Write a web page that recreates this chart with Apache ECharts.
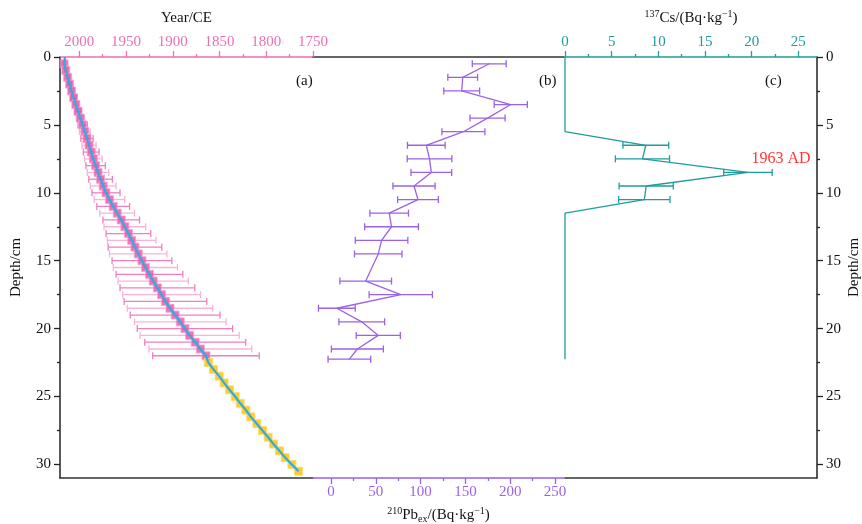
<!DOCTYPE html>
<html lang="en">
<head>
  <meta charset="UTF-8">
  <title>210Pb / 137Cs depth profile</title>
  <script src="https://cdn.jsdelivr.net/npm/echarts@6/dist/echarts.min.js"></script>
  <style>
    html, body { margin: 0; background: #fff; }
    #chart { width: 862px; height: 524px; }
  </style>
</head>
<body>
  <div id="chart"></div>
  <script>
    // (a) CRS ages, depth in cm
    const ageDepth = [0.5, 1, 1.5, 2, 2.5, 3, 3.5, 4, 4.5, 5, 5.5, 6, 6.5, 7, 7.5, 8, 8.5, 9, 9.5, 10, 10.5, 11,
      11.5, 12, 12.5, 13, 13.5, 14, 14.5, 15, 15.5, 16, 16.5, 17, 17.5, 18, 18.5, 19, 19.5, 20, 20.5, 21, 21.5, 22]
    const ageYear = [2016.3, 2014.5, 2012.5, 2010.4, 2008.3, 2006.1, 2003.8, 2001.4, 1998.9, 1996.4, 1994.1, 1991.8,
      1989.6, 1987.3, 1985.0, 1982.6, 1980.0, 1977.3, 1974.5, 1971.5, 1967.8, 1963.8, 1959.5, 1955.2, 1951.3, 1947.5,
      1944.0, 1940.5, 1937.0, 1933.0, 1929.3, 1925.0, 1921.0, 1916.5, 1912.0, 1907.9, 1903.0, 1897.5, 1892.0, 1887.0,
      1882.0, 1876.0, 1870.5, 1864.5]
    const ageErr = [1.0, 1.2, 1.5, 1.8, 2.2, 2.6, 3.0, 3.6, 4.2, 5.0, 5.8, 6.6, 7.5, 8.4, 9.4, 10.4, 11.5, 12.6, 13.8,
      15.0, 16.3, 17.5, 18.6, 19.6, 22.3, 23.9, 26.0, 28.7, 30.7, 32.0, 34.3, 35.7, 37.6, 40.0, 41.6, 44.2, 45.7, 48.0,
      49.0, 51.0, 53.0, 54.0, 55.0, 57.0]
    // extrapolated ages below the dated section
    const extDepth = [22.5, 23, 23.5, 24, 24.5, 25, 25.5, 26, 26.5, 27, 27.5, 28, 28.5, 29, 29.5, 30, 30.5]
    const extYear = [1861.9, 1856.5, 1850.4, 1845.1, 1839.4, 1833.3, 1827.9, 1821.8, 1816.5, 1810.1, 1804.1, 1798.0,
      1792.3, 1785.9, 1779.8, 1772.6, 1765.5]
    const topYear = 2015.3

    // (b) 210Pb excess
    const pbDepth = [0.5, 1.5, 2.5, 3.5, 4.5, 5.5, 6.5, 7.5, 8.5, 9.5, 10.5, 11.5, 12.5, 13.5, 14.5, 16.5, 17.5,
      18.5, 19.5, 20.5, 21.5, 22.25]
    const pbValue = [176.6, 147, 145.9, 200.6, 174.7, 147.8, 106.4, 110, 112, 92.7, 97.1, 65, 67.6, 56.5, 52.8, 38.8,
      77.9, 6.6, 34.4, 52.8, 29.5, 20.6]
    const pbErr = [18.9, 16.6, 20, 18.5, 19.6, 24, 21, 24.9, 22.7, 23.5, 22.7, 21.5, 30, 29.3, 26.5, 28.8, 35.3, 20.5,
      25.5, 24.6, 29, 23.8]

    // (c) 137Cs
    const csDepth = [0, 5.5, 6.5, 7.5, 8.5, 9.5, 10.5, 11.5, 22.25]
    const csValue = [0, 0, 8.66, 8.3, 19.6, 8.7, 8.5, 0, 0]
    const csErr = [0, 0, 2.45, 2.9, 2.6, 2.9, 2.75, 0, 0]

    const yearTicks = [2000, 1950, 1900, 1850, 1800, 1750]
    const yearMinor = [1975, 1925, 1875, 1825, 1775]
    const pbTicks = [0, 50, 100, 150, 200, 250]
    const pbMinor = [25, 75, 125, 175, 225]
    const csTicks = [0, 5, 10, 15, 20, 25]
    const csMinor = [2.5, 7.5, 12.5, 17.5, 22.5]
    const depthTicks = [0, 5, 10, 15, 20, 25, 30]
    const depthMinor = [2.5, 7.5, 12.5, 17.5, 22.5, 27.5]

    const PINK = '#f06eb5'
    const PURPLE = '#9b62e6'
    const TEAL = '#1f9c9c'
    const FONT = 'Liberation Serif'

    const gridTop = 57
    const gridBottom = 46

    function errorBars(colors, capH) {
      return function (params, api) {
        const lo = api.coord([api.value(0), api.value(2)])
        const hi = api.coord([api.value(1), api.value(2)])
        const color = colors[params.dataIndex % colors.length]
        const style = { stroke: color, lineWidth: 1.3 }
        return {
          type: 'group',
          children: [
            { type: 'line', shape: { x1: lo[0], y1: lo[1], x2: hi[0], y2: hi[1] }, style: style },
            { type: 'line', shape: { x1: lo[0], y1: lo[1] - capH, x2: lo[0], y2: lo[1] + capH }, style: style },
            { type: 'line', shape: { x1: hi[0], y1: hi[1] - capH, x2: hi[0], y2: hi[1] + capH }, style: style }
          ]
        }
      }
    }

    function valueAxis(opts) {
      return Object.assign({
        type: 'value',
        splitLine: { show: false },
        axisLine: { show: true, onZero: false, lineStyle: { color: '#333', width: 1.5 } },
        axisTick: { show: false },
        axisLabel: { show: false }
      }, opts)
    }

    function majorAxis(gridIndex, pos, min, max, color, ticks, inverse, extra) {
      return valueAxis(Object.assign({
        gridIndex: gridIndex, position: pos, min: min, max: max, inverse: !!inverse,
        axisLine: { show: true, onZero: false, lineStyle: { color: color, width: 1.5 } },
        axisTick: { show: true, length: 6, customValues: ticks, lineStyle: { color: color, width: 1.3 } },
        axisLabel: {
          show: true, customValues: ticks, color: color, fontFamily: FONT, fontSize: 15, margin: 7,
          formatter: v => String(v)
        }
      }, extra || {}))
    }

    function minorAxis(gridIndex, pos, min, max, color, ticks, inverse) {
      return valueAxis({
        gridIndex: gridIndex, position: pos, min: min, max: max, inverse: !!inverse,
        axisLine: { show: false, onZero: false },
        axisTick: { show: true, length: 3, customValues: ticks, lineStyle: { color: color, width: 1.3 } }
      })
    }

    const nameRich = {
      sup: { fontSize: 10, fontFamily: FONT, color: '#111', verticalAlign: 'top', lineHeight: 10 },
      sub: { fontSize: 10, fontFamily: FONT, color: '#111', verticalAlign: 'bottom', lineHeight: 10 },
      base: { fontSize: 15, fontFamily: FONT, color: '#111', lineHeight: 18 }
    }

    const depthLabel = {
      show: true, customValues: depthTicks, color: '#111', fontFamily: FONT, fontSize: 15, margin: 9,
      formatter: v => String(v)
    }

    const pinkBars = ageDepth.map((d, i) => [ageYear[i] - ageErr[i], ageYear[i] + ageErr[i], d])
    const pbBars = pbDepth.map((d, i) => [pbValue[i] - pbErr[i], pbValue[i] + pbErr[i], d])
    const csBars = []
    csDepth.forEach((d, i) => {
      if (csErr[i] > 0) csBars.push([csValue[i] - csErr[i], csValue[i] + csErr[i], d])
    })
    const peakIdx = csValue.indexOf(Math.max(...csValue))

    const gridBase = { top: gridTop, bottom: gridBottom, containLabel: false, outerBoundsMode: 'none' }

    const option = {
      backgroundColor: '#fff',
      animation: false,
      grid: [
        Object.assign({ left: 60, right: 549 }, gridBase),
        Object.assign({ left: 313, right: 298 }, gridBase),
        Object.assign({ left: 565, right: 45 }, gridBase)
      ],
      xAxis: [
        majorAxis(0, 'top', 1750, 2020.7, PINK, yearTicks, true, {
          name: 'Year/CE', nameLocation: 'middle', nameGap: 31,
          nameTextStyle: { fontFamily: FONT, fontSize: 15, color: '#111' }
        }),
        minorAxis(0, 'top', 1750, 2020.7, PINK, yearMinor, true),
        valueAxis({ gridIndex: 0, position: 'bottom', min: 1750, max: 2020.7, inverse: true }),
        majorAxis(1, 'bottom', -20, 260, PURPLE, pbTicks, false, {
          name: '{sup|210}{base|Pb}{sub|ex}{base|/(Bq·kg}{sup|−1}{base|)}',
          nameLocation: 'middle', nameGap: 28,
          nameTextStyle: { rich: nameRich }
        }),
        minorAxis(1, 'bottom', -20, 260, PURPLE, pbMinor, false),
        valueAxis({ gridIndex: 1, position: 'top', min: -20, max: 260 }),
        majorAxis(2, 'top', 0, 27, TEAL, csTicks, false, {
          name: '{sup|137}{base|Cs/(Bq·kg}{sup|−1}{base|)}',
          nameLocation: 'middle', nameGap: 30,
          nameTextStyle: { rich: nameRich }
        }),
        minorAxis(2, 'top', 0, 27, TEAL, csMinor, false),
        valueAxis({ gridIndex: 2, position: 'bottom', min: 0, max: 27 })
      ],
      yAxis: [
        majorAxis(0, 'left', 0, 31, '#222', depthTicks, true, {
          name: 'Depth/cm', nameLocation: 'middle', nameGap: 36, nameRotate: 90,
          nameTextStyle: { fontFamily: FONT, fontSize: 15, color: '#111' },
          axisLabel: depthLabel
        }),
        minorAxis(0, 'left', 0, 31, '#222', depthMinor, true),
        valueAxis({ gridIndex: 1, min: 0, max: 31, inverse: true, show: false }),
        majorAxis(2, 'right', 0, 31, '#222', depthTicks, true, {
          name: 'Depth/cm', nameLocation: 'middle', nameGap: 30, nameRotate: 90,
          nameTextStyle: { fontFamily: FONT, fontSize: 15, color: '#111' },
          axisLabel: depthLabel
        }),
        minorAxis(2, 'right', 0, 31, '#222', depthMinor, true)
      ],
      graphic: [
        { type: 'text', left: 296, top: 74, style: { text: '(a)', font: '15px "Liberation Serif"', fill: '#111' } },
        { type: 'text', left: 539, top: 74, style: { text: '(b)', font: '15px "Liberation Serif"', fill: '#111' } },
        { type: 'text', left: 765, top: 74, style: { text: '(c)', font: '15px "Liberation Serif"', fill: '#111' } }
      ],
      series: [
        {
          type: 'custom', xAxisIndex: 0, yAxisIndex: 0, z: 2,
          renderItem: errorBars(['#f9b3d8', '#f27ec2'], 3.5),
          encode: { x: [0, 1], y: 2 },
          data: pinkBars
        },
        {
          type: 'scatter', xAxisIndex: 0, yAxisIndex: 0, z: 3,
          symbol: 'rect', symbolSize: 8,
          itemStyle: { color: '#ee4fa5', borderColor: '#f6a3cf', borderWidth: 1 },
          data: ageDepth.map((d, i) => [ageYear[i], d])
        },
        {
          type: 'scatter', xAxisIndex: 0, yAxisIndex: 0, z: 3,
          symbol: 'rect', symbolSize: 8,
          itemStyle: { color: '#ffbe00', borderColor: '#ffd866', borderWidth: 1 },
          data: extDepth.map((d, i) => [extYear[i], d])
        },
        {
          type: 'line', xAxisIndex: 0, yAxisIndex: 0, z: 4,
          symbol: 'none',
          lineStyle: { color: '#29aee3', width: 2.2 },
          data: [[topYear, 0]].concat(ageDepth.map((d, i) => [ageYear[i], d]), extDepth.map((d, i) => [extYear[i], d]))
        },
        {
          type: 'custom', xAxisIndex: 3, yAxisIndex: 2, z: 2,
          renderItem: errorBars([PURPLE], 3.5),
          encode: { x: [0, 1], y: 2 },
          data: pbBars
        },
        {
          type: 'line', xAxisIndex: 3, yAxisIndex: 2, z: 3,
          symbol: 'none',
          lineStyle: { color: PURPLE, width: 1.3 },
          data: pbDepth.map((d, i) => [pbValue[i], d])
        },
        {
          type: 'custom', xAxisIndex: 6, yAxisIndex: 3, z: 2,
          renderItem: errorBars([TEAL], 3.5),
          encode: { x: [0, 1], y: 2 },
          data: csBars
        },
        {
          type: 'line', xAxisIndex: 6, yAxisIndex: 3, z: 3,
          symbol: 'none',
          lineStyle: { color: TEAL, width: 1.3 },
          data: csDepth.map((d, i) => [csValue[i], d])
        },
        {
          type: 'scatter', xAxisIndex: 6, yAxisIndex: 3, z: 5,
          symbol: 'circle', symbolSize: 1,
          itemStyle: { color: TEAL },
          label: {
            show: true, position: 'right', distance: 3, offset: [0, -14], formatter: '1963 AD',
            color: '#ff0000', fontFamily: FONT, fontSize: 16
          },
          data: [[csValue[peakIdx], csDepth[peakIdx]]]
        }
      ]
    }

    const myChart = echarts.init(document.getElementById('chart'))
    myChart.setOption(option)
  </script>
</body>
</html>
